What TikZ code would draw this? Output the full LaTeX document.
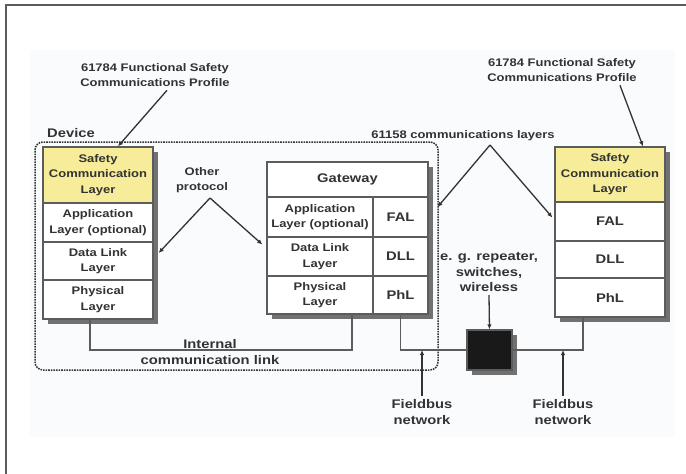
\documentclass[tikz,border=0pt]{standalone}
\usepackage{fontspec}
\newfontfamily\diafont[FakeStretch=1.18]{Liberation Sans}
\usetikzlibrary{shadows,arrows.meta}

\definecolor{safetyyellow}{HTML}{F6EC9A}
\definecolor{textgray}{HTML}{333333}
\definecolor{linegray}{HTML}{5C5C5C}
\definecolor{shadowgray}{HTML}{717171}
\definecolor{paper}{HTML}{FAFBFD}

\newcommand\smalltext{\diafont\bfseries\fontsize{11}{15.5}\selectfont}
\newcommand\bigtext{\diafont\bfseries\fontsize{12.5}{15.5}\selectfont}

\tikzset{
  layer/.style={draw=linegray, line width=1.3pt, fill=white, inner sep=0pt,
    align=center, text=textgray, font=\smalltext,
    drop shadow={shadow xshift=5pt, shadow yshift=-5pt, fill=shadowgray, opacity=1}},
  safety/.style={layer, fill=safetyyellow},
  shortlayer/.style={layer, font=\bigtext},
  device/.style={draw=textgray, line width=1.5pt, dash pattern=on 1.6pt off 1pt, rounded corners=8pt},
  note/.style={align=center, text=textgray, font=\smalltext},
  bignote/.style={note, font=\bigtext},
  link/.style={draw=linegray, line width=1.3pt},
  pointer/.style={draw=textgray, line width=1.3pt, -{Latex[length=5pt,width=4.5pt]}},
}

\begin{document}
\begin{tikzpicture}[x=1pt,y=-1pt]
  \useasboundingbox (0,0) rectangle (686,474);
  \fill[paper] (30,50) rectangle (675,437);
  \draw[linegray, line width=1.5pt] (686,5) -- (6,5) -- (6,474);

  % device border
  \node[device, minimum width=403pt, minimum height=228pt] (dev) at (236.5,256) {};
  \node[bignote] (devlbl) at (71,133) {Device};

  % device stack
  \node[safety, minimum width=110pt, minimum height=56pt] (lsafe) at (98,175) {Safety\\Communication\\Layer};
  \node[layer, minimum width=110pt, minimum height=39pt] (lapp) at (98,222.5) {Application\\Layer (optional)};
  \node[layer, minimum width=110pt, minimum height=38pt] (ldll) at (98,261) {Data Link\\Layer};
  \node[layer, minimum width=110pt, minimum height=39pt] (lphy) at (98,299.5) {Physical\\Layer};

  % gateway
  \node[shortlayer, minimum width=161pt, minimum height=35pt] (gw) at (347.5,179.5) {Gateway};
  \node[layer, minimum width=106pt, minimum height=40pt] (gapp) at (320,217) {Application\\Layer (optional)};
  \node[shortlayer, minimum width=55pt, minimum height=40pt] (gfal) at (400.5,217) {FAL};
  \node[layer, minimum width=106pt, minimum height=39pt] (gdll) at (320,256.5) {Data Link\\Layer};
  \node[shortlayer, minimum width=55pt, minimum height=39pt] (gdl) at (400.5,256.5) {DLL};
  \node[layer, minimum width=106pt, minimum height=38pt] (gphy) at (320,295) {Physical\\Layer};
  \node[shortlayer, minimum width=55pt, minimum height=38pt] (gphl) at (400.5,295) {PhL};

  % remote stack
  \node[safety, minimum width=110pt, minimum height=55pt] (rsafe) at (610,174.5) {Safety\\Communication\\Layer};
  \node[shortlayer, minimum width=110pt, minimum height=39pt] (rfal) at (610,221.5) {FAL};
  \node[shortlayer, minimum width=110pt, minimum height=37pt] (rdll) at (610,259.5) {DLL};
  \node[shortlayer, minimum width=110pt, minimum height=39pt] (rphl) at (610,297.5) {PhL};

  % repeater
  \node[layer, fill=black!90, minimum width=45pt, minimum height=40pt] (rep) at (489.5,350) {};

  % wiring
  \coordinate (il) at (90,350);
  \coordinate (ir) at (352,350);
  \coordinate (fr) at (583,350);
  \draw[link] (lphy.south -| il) -- (il) -- (ir) -- (gphy.south -| ir);
  \draw[link] (gphl.south) |- (rep.west);
  \draw[link] (rep.east) -- (fr) -- (rphl.south -| fr);

  % labels
  \node[note] (lprof) at (155,75) {61784 Functional Safety\\Communications Profile};
  \node[note] (rprof) at (562,70) {61784 Functional Safety\\Communications Profile};
  \node[note] (other) at (202,180) {Other\\protocol};
  \node[note] (comm) at (463,136) {61158 communications layers};
  \node[bignote] (intl) at (210,352) {Internal\\communication link};
  \node[bignote] (eg) at (489,272) {e. g. repeater,\\switches,\\wireless};
  \node[bignote] (fb1) at (422,412) {Fieldbus\\network};
  \node[bignote] (fb2) at (563,412) {Fieldbus\\network};

  \coordinate (otip) at (210,198);
  \coordinate (ctip) at (490,145);
  \draw[pointer] ([xshift=12pt]lprof.south) -- ([xshift=20pt]lsafe.north);
  \draw[pointer] ([xshift=58pt]rprof.south) -- ([xshift=33pt]rsafe.north);
  \draw[pointer] (otip) -- ([xshift=5pt,yshift=8pt]ldll.east);
  \draw[pointer] (otip) -- ([xshift=-4pt,yshift=12pt]gdll.west);
  \draw[pointer] (ctip) -- ([xshift=9pt,yshift=10pt]gfal.east);
  \draw[pointer] (ctip) -- ([xshift=-2pt,yshift=4pt]rfal.west);
  \draw[pointer] (eg.south) -- (rep.north);
  \draw[pointer] (fb1.north) -- (fb1.north |- rep.west);
  \draw[pointer] (fb2.north) -- (fb2.north |- rep.west);
\end{tikzpicture}
\end{document}
